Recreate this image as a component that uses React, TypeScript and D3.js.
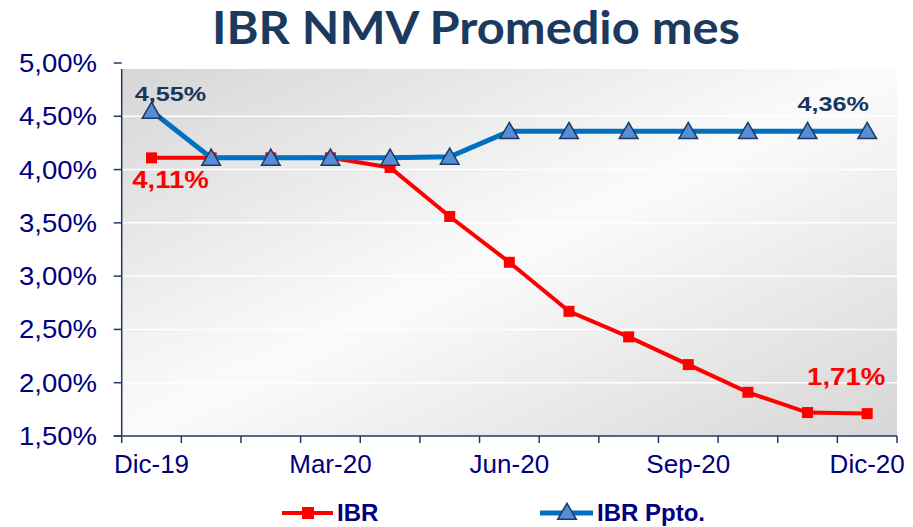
import React from "react";
import * as d3 from "d3";

const months = ["Dic-19","Ene-20","Feb-20","Mar-20","Abr-20","May-20","Jun-20","Jul-20","Ago-20","Sep-20","Oct-20","Nov-20","Dic-20"];
const tickLabels = ["Dic-19","Mar-20","Jun-20","Sep-20","Dic-20"];
const ibr = [4.11,4.11,4.11,4.11,4.02,3.56,3.13,2.67,2.43,2.17,1.91,1.72,1.71];
const ibrPpto = [4.55,4.11,4.11,4.11,4.11,4.12,4.36,4.36,4.36,4.36,4.36,4.36,4.36];
const yTicks = [1.5,2.0,2.5,3.0,3.5,4.0,4.5,5.0];

const W = 913, H = 527;
const left = 121.7, right = 897, top = 63, bottom = 436;

const fmt = (v: number) => v.toFixed(2).replace(".", ",") + "%";

export default function App() {
  const x = d3.scaleBand<string>().domain(months).range([left, right]).padding(0);
  const y = d3.scaleLinear().domain([1.5, 5.0]).range([bottom, top]);
  const cx = (m: string) => (x(m) as number) + x.bandwidth() / 2;
  const line = d3.line<number>().x((_, i) => cx(months[i])).y(d => y(d));
  const tickXs = d3.range(months.length + 1).map(i => left + i * x.bandwidth());
  const tri = d3.symbol().type(d3.symbolTriangle).size(150)();
  const navy = "#000080";
  const axisColor = "#1f3864";
  const lbl = "#17375e";

  const label = (key: string, tx: number, ty: number, text: string, color: string, size: number) => (
    <text key={key} transform={`translate(${tx},${ty}) scale(1.2,1)`} dy="0.36em" textAnchor="middle" fontWeight="bold" fontSize={size} fill={color}>{text}</text>
  );

  return (
    <svg width={W} height={H} style={{ position: "absolute", left: 0, top: 0 }} fontFamily="'Liberation Sans', Arial, sans-serif">
      <defs>
        <linearGradient id="bg" x1="0" y1="0" x2="1" y2="1">
          <stop offset="0" stopColor="#d6d6d6" />
          <stop offset="0.5" stopColor="#fbfbfb" />
          <stop offset="1" stopColor="#d6d6d6" />
        </linearGradient>
      </defs>
      <rect x={0} y={0} width={W} height={H} fill="#fff" />
      <text x={212} y={44} textLength={528} lengthAdjust="spacingAndGlyphs" fontFamily="Lato, sans-serif" fontWeight="bold" fontSize={45} fill="#1c3a5e">IBR NMV Promedio mes</text>
      <rect x={left} y={y(5.0) + 6} width={right - left} height={bottom - y(5.0) - 6} fill="url(#bg)" />
      {yTicks.slice(1).map(t => (
        <line key={"g" + t} x1={left} x2={right} y1={y(t)} y2={y(t)} stroke="#ffffff" strokeWidth={1.5} />
      ))}
      <line x1={left} x2={left} y1={y(5.0) + 6} y2={bottom} stroke={axisColor} strokeWidth={1.5} />
      <line x1={left - 8} x2={right} y1={bottom} y2={bottom} stroke={axisColor} strokeWidth={1.5} />
      {yTicks.map(t => (
        <g key={"y" + t}>
          <line x1={left - 8} x2={left} y1={y(t)} y2={y(t)} stroke={axisColor} strokeWidth={1.5} />
          <text transform={`translate(97,${y(t)}) scale(1.1,1)`} dy="0.36em" textAnchor="end" fontSize={25} fill={navy}>{fmt(t)}</text>
        </g>
      ))}
      {tickXs.map((tx, i) => (
        <line key={"xt" + i} x1={tx} x2={tx} y1={bottom} y2={bottom + 7} stroke={axisColor} strokeWidth={1.5} />
      ))}
      {tickLabels.map(m => (
        <text key={"xl" + m} x={cx(m)} y={bottom + 37} textAnchor="middle" fontSize={26} fill={navy}>{m}</text>
      ))}
      <path d={line(ibr) as string} fill="none" stroke="#ff0000" strokeWidth={4} />
      {ibr.map((v, i) => (
        <rect key={"r" + i} x={cx(months[i]) - 5.5} y={y(v) - 5.5} width={11} height={11} fill="#ff0000" />
      ))}
      <path d={line(ibrPpto) as string} fill="none" stroke="#0070c0" strokeWidth={5} />
      {ibrPpto.map((v, i) => (
        <path key={"t" + i} d={tri as string} transform={`translate(${cx(months[i])},${y(v) + 2})`} fill="#558ed5" stroke="#1f3864" strokeWidth={1.5} />
      ))}
      {label("l1", cx(months[0]) + 19, 93.5, fmt(ibrPpto[0]), lbl, 21)}
      {label("l2", cx(months[0]) + 19, 180, fmt(ibr[0]), "#ff0000", 23)}
      {label("l3", cx(months[12]) - 34, 103.5, fmt(ibrPpto[12]), lbl, 21)}
      {label("l4", cx(months[12]) - 21, 376.5, fmt(ibr[12]), "#ff0000", 23)}
      <g>
        <line x1={282} x2={333} y1={513} y2={513} stroke="#ff0000" strokeWidth={4} />
        <rect x={302} y={507} width={12} height={12} fill="#ff0000" />
        <text x={337} y={512} dy="0.36em" fontWeight="bold" fontSize={24} fill={navy}>IBR</text>
        <line x1={540} x2={593} y1={513} y2={513} stroke="#0070c0" strokeWidth={5} />
        <path d={tri as string} transform="translate(567,514)" fill="#558ed5" stroke="#1f3864" strokeWidth={1.5} />
        <text x={597} y={512} dy="0.36em" fontWeight="bold" fontSize={24} fill={navy}>IBR Ppto.</text>
      </g>
    </svg>
  );
}
